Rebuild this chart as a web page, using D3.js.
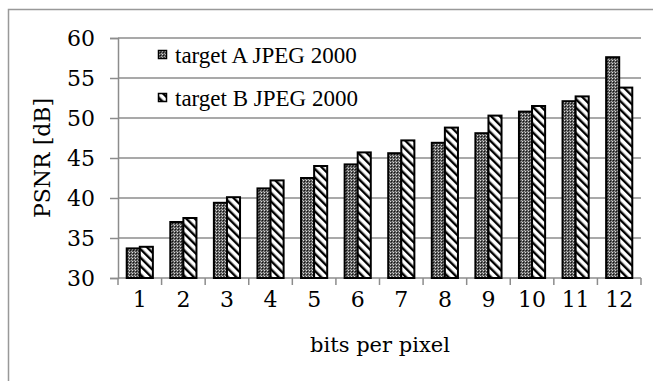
<!DOCTYPE html>
<html><head><meta charset="utf-8">
<script src="https://cdn.jsdelivr.net/npm/d3@7"></script>
<style>body{margin:0;background:#fff}svg{display:block}text{fill:#000}
.cs{font-family:"DejaVu Serif",serif !important}
.tm{font-family:"Times New Roman",Times,"Liberation Serif",serif !important}</style>
</head><body>
<svg id="c" width="653" height="381"></svg>
<script>
const categories = ["1","2","3","4","5","6","7","8","9","10","11","12"];
const seriesNames = ["target A JPEG 2000","target B JPEG 2000"];
const targetA = [33.7, 37.0, 39.4, 41.2, 42.5, 44.2, 45.6, 46.9, 48.1, 50.8, 52.1, 57.6];
const targetB = [33.9, 37.5, 40.1, 42.2, 44.0, 45.7, 47.2, 48.8, 50.3, 51.5, 52.7, 53.8];
const yTicks = [30, 35, 40, 45, 50, 55, 60];

(function(){
const svg = d3.select("#c");
const defs = svg.append("defs");
const pA = defs.append("pattern").attr("id","patA").attr("patternUnits","userSpaceOnUse").attr("width",3).attr("height",3);
pA.append("rect").attr("width",3).attr("height",3).attr("fill","#5a5a5a");
pA.append("rect").attr("x",0).attr("y",0).attr("width",1).attr("height",1).attr("fill","#ddd");
pA.append("rect").attr("x",1).attr("y",1).attr("width",1).attr("height",1).attr("fill","#111");
pA.append("rect").attr("x",2).attr("y",2).attr("width",1).attr("height",1).attr("fill","#aaa");
const pB = defs.append("pattern").attr("id","patB").attr("patternUnits","userSpaceOnUse").attr("width",6).attr("height",6).attr("patternTransform","rotate(-45)");
pB.append("rect").attr("width",6).attr("height",6).attr("fill","#fff");
pB.append("rect").attr("x",0).attr("y",0).attr("width",2.4).attr("height",6).attr("fill","#000");

svg.append("rect").attr("x",8.5).attr("y",9.5).attr("width",700).attr("height",400).attr("fill","none").attr("stroke","#999").attr("stroke-width",1.5);

const pl = 118, pr = 641, pt = 38, pb = 278;
const x = d3.scaleBand().domain(categories).range([pl, pr]).paddingInner(0.4).paddingOuter(0.2);
const x0 = d3.scaleBand().domain(categories).range([pl, pr]);
const y = d3.scaleLinear().domain([30, 60]).range([pb, pt]);
const xs = d3.scaleBand().domain([0,1]).range([0, x.bandwidth()]);

svg.append("g").selectAll("line").data(yTicks.slice(1)).join("line")
  .attr("x1", pl).attr("x2", pr).attr("y1", d=>y(d)).attr("y2", d=>y(d))
  .attr("stroke","#8c8c8c").attr("stroke-width",1.5);

const yAxis = svg.append("g").attr("transform",`translate(${pl},0)`)
  .call(d3.axisLeft(y).tickValues(yTicks).tickSize(8).tickPadding(15).tickFormat(d3.format("d")));
yAxis.select(".domain").attr("stroke","#8c8c8c").attr("stroke-width",1.5);
yAxis.selectAll(".tick line").attr("stroke","#8c8c8c").attr("stroke-width",1.5);
yAxis.selectAll("text").attr("class","cs").style("font-size","22px").attr("fill","#000");

const xAxis = svg.append("g").attr("transform",`translate(0,${pb})`)
  .call(d3.axisBottom(x0).tickSize(0).tickPadding(13));
xAxis.select(".domain").attr("stroke","#8c8c8c").attr("stroke-width",1.5).attr("d",`M${pl},0H${pr}`);
xAxis.selectAll("text").attr("class","cs").style("font-size","22px").attr("fill","#000");
xAxis.append("g").selectAll("line").data(d3.range(categories.length+1)).join("line")
  .attr("x1", i=>pl + i*x0.step()).attr("x2", i=>pl + i*x0.step())
  .attr("y1",0).attr("y2",7).attr("stroke","#8c8c8c").attr("stroke-width",1.5);

const series = [targetA, targetB];
const fills = ["url(#patA)","url(#patB)"];
series.forEach((vals, si) => {
  svg.append("g").selectAll("rect").data(vals).join("rect")
    .attr("x", (d,i)=> x(categories[i]) + xs(si))
    .attr("width", xs.bandwidth())
    .attr("y", d=>y(d))
    .attr("height", d=>y(30)-y(d))
    .attr("fill", fills[si])
    .attr("stroke","#000").attr("stroke-width",2);
});

const lg = svg.append("g");
seriesNames.forEach((n, i) => {
  const cy = 55 + i*43;
  lg.append("rect").attr("x",158.5).attr("y",cy-4.5).attr("width",8).attr("height",8)
    .attr("fill",fills[i]).attr("stroke","#000").attr("stroke-width",1.5);
  lg.append("text").attr("class","tm").attr("x",175).attr("y",cy).attr("dy","0.35em").style("font-size","23px").text(n);
});

svg.append("text").attr("class","cs").attr("transform","translate(42,158) rotate(-90)").attr("text-anchor","middle").attr("dy","0.35em")
  .style("font-size","22px").text("PSNR [dB]");
svg.append("text").attr("class","cs").attr("x",380).attr("y",345).attr("text-anchor","middle").attr("dy","0.35em")
  .style("font-size","21px").text("bits per pixel");
})();
</script>
</body></html>
